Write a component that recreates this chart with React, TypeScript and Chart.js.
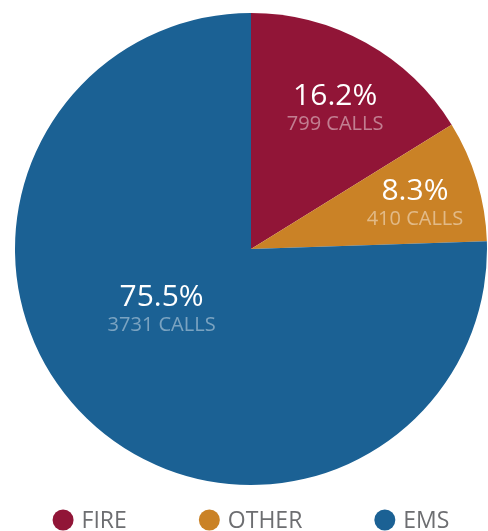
import React, { useEffect, useRef } from "react";
import { Chart, registerables } from "chart.js";

Chart.register(...registerables);

const categories = ["FIRE", "OTHER", "EMS"];
const calls = [799, 410, 3731];
const colors = ["#911537", "#CA8226", "#1B6194"];
const subColors = ["rgba(255,255,255,0.45)", "rgba(255,255,255,0.45)", "rgba(255,255,255,0.42)"];
const labelRadius = [0.69, 0.72, 0.46];
const labelAngleShift = [2, 1.6, 11.4];

const FONT = "'Open Sans', 'Noto Sans', sans-serif";

const sliceLabels = {
  id: "sliceLabels",
  afterDatasetsDraw(chart: any) {
    const ctx = chart.ctx;
    const meta = chart.getDatasetMeta(0);
    const data = chart.data.datasets[0].data as number[];
    const total = data.reduce((a, b) => a + b, 0);
    meta.data.forEach((arc: any, i: number) => {
      const { x, y, startAngle, endAngle, outerRadius } = arc.getProps(
        ["x", "y", "startAngle", "endAngle", "outerRadius"],
        true
      );
      const mid = (startAngle + endAngle) / 2 + (labelAngleShift[i] * Math.PI) / 180;
      const r = outerRadius * labelRadius[i];
      const ax = x + Math.cos(mid) * r;
      const ay = y + Math.sin(mid) * r;
      ctx.save();
      ctx.textAlign = "center";
      ctx.textBaseline = "middle";
      ctx.fillStyle = "#ffffff";
      ctx.font = `30px ${FONT}`;
      ctx.fillText(((data[i] / total) * 100).toFixed(1) + "%", ax, ay - 13);
      ctx.fillStyle = subColors[i];
      ctx.font = `20px ${FONT}`;
      ctx.fillText(`${data[i]} CALLS`, ax, ay + 15);
      ctx.restore();
    });
  },
};

const customLegend = {
  id: "customLegend",
  afterDraw(chart: any) {
    const ctx = chart.ctx;
    const labels = chart.data.labels as string[];
    const bg = chart.data.datasets[0].backgroundColor as string[];
    const radius = 10.5;
    const textGap = 8;
    const itemGap = 72;
    ctx.save();
    ctx.font = `23px ${FONT}`;
    const widths = labels.map((l) => ctx.measureText(l).width);
    const itemW = widths.map((w) => radius * 2 + textGap + w);
    const total = itemW.reduce((a, b) => a + b, 0) + itemGap * (labels.length - 1);
    let x = chart.width / 2 - total / 2 + 7;
    const y = chart.height - 11;
    labels.forEach((l, i) => {
      ctx.fillStyle = bg[i];
      ctx.beginPath();
      ctx.arc(x + radius, y, radius, 0, Math.PI * 2);
      ctx.fill();
      ctx.fillStyle = "#6d6e71";
      ctx.textAlign = "left";
      ctx.textBaseline = "middle";
      ctx.fillText(l, x + radius * 2 + textGap, y + 1);
      x += itemW[i] + itemGap;
    });
    ctx.restore();
  },
};

export default function App() {
  const ref = useRef<HTMLCanvasElement>(null);
  useEffect(() => {
    if (!ref.current) return;
    const chart = new Chart(ref.current, {
      type: "pie",
      data: {
        labels: categories,
        datasets: [
          {
            data: calls,
            backgroundColor: colors,
            borderWidth: 0,
          },
        ],
      },
      options: {
        responsive: false,
        animation: false,
        layout: { padding: { top: 13, left: 15, right: 1, bottom: 46 } },
        plugins: {
          legend: { display: false },
          tooltip: { enabled: false },
        },
      },
      plugins: [sliceLabels, customLegend],
    });
    return () => chart.destroy();
  }, []);
  return (
    <div style={{ position: "absolute", left: 0, top: 0, width: 488, height: 531, background: "#fff" }}>
      <canvas ref={ref} width={488} height={531} />
    </div>
  );
}
